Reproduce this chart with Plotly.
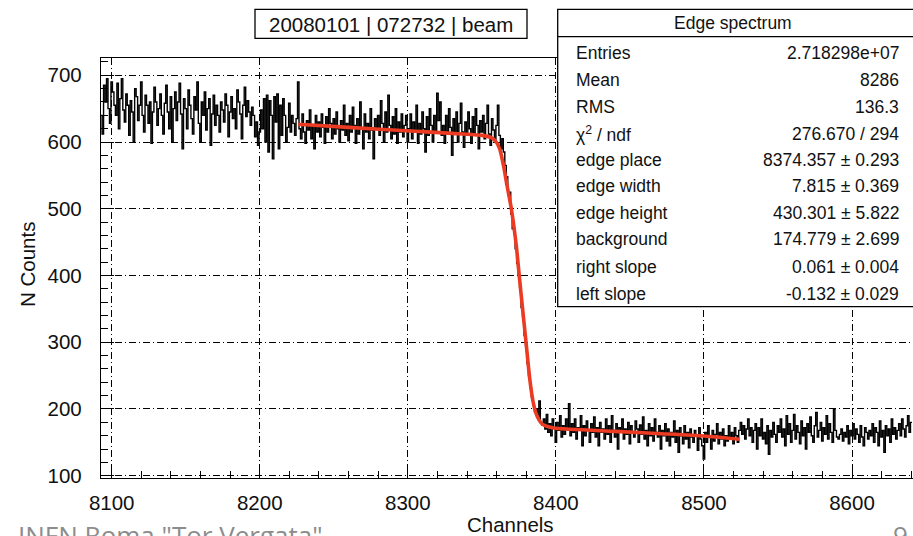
import plotly.graph_objects as go

# ---------------- data ----------------
bin_start = 8092.5   # low edge of the first 1-channel bin
bin_width = 1.0

counts_a = [  # 8093-8200
    640, 612, 685, 660, 695, 650, 628, 690, 675, 655, 640, 688, 620, 665, 695, 648, 630, 672, 655, 610,
    662, 645, 600, 680, 668, 632, 655, 690, 640, 615, 670, 655, 628, 660, 598, 645, 682, 660, 625, 650,
    672, 640, 612, 658, 685, 645, 620, 668, 600, 650, 675, 632, 660, 688, 642, 590, 665, 650, 620, 678,
    655, 635, 612, 668, 648, 690, 628, 600, 660, 640, 675, 618, 650, 665, 595, 642, 670, 625, 655, 640,
    615, 660, 648, 630, 672, 655, 608, 645, 668, 635, 650, 620, 678, 660, 642, 605, 655, 682, 638, 662,
    645, 625, 652, 640, 608, 630, 595, 615,
]
counts_b = [  # 8201-8300
    648, 620, 665, 600, 670, 585, 662, 640, 575, 668, 630, 672, 590, 655, 610, 665, 640, 600, 622, 658,
    615, 640, 628, 610, 635, 690, 620, 605, 642, 615, 598, 632, 618, 648, 605, 625, 590, 640, 615, 630,
    608, 642, 622, 598, 638, 615, 650, 628, 605, 635, 612, 645, 620, 600, 632, 618, 655, 610, 628, 602,
    640, 615, 652, 625, 598, 635, 612, 660, 620, 590, 642, 615, 628, 605, 650, 618, 575, 635, 622, 640,
    610, 662, 628, 600, 645, 615, 670, 625, 605, 638, 612, 650, 598, 630, 615, 642, 608, 625, 640, 600,
]
counts_c = [  # 8301-8365
    620, 642, 605, 630, 615, 655, 598, 628, 612, 645, 620, 585, 638, 610, 650, 625, 600, 640, 615, 673,
    632, 660, 610, 625, 598, 640, 615, 650, 622, 580, 635, 612, 645, 600, 628, 658, 615, 592, 630, 610,
    645, 620, 598, 638, 612, 650, 625, 590, 632, 615, 640, 605, 628, 655, 612, 595, 635, 618, 600, 625,
    655, 610, 590, 605, 585,
]
counts_d = [  # 8366-8392 (edge)
    565, 548, 520, 525, 492, 470, 462, 440, 418, 400, 382, 352, 338, 310, 295, 268, 250, 232, 218, 205,
    196, 200, 188, 212, 180, 176, 185,
]
counts_e = [  # 8393-8532
    170, 192, 165, 178, 160, 185, 172, 150, 180, 168, 190, 158, 175, 162, 185, 170, 208, 160, 178, 165,
    185, 155, 172, 168, 190, 145, 175, 160, 182, 168, 150, 178, 165, 188, 158, 172, 145, 180, 165, 170,
    155, 185, 162, 175, 150, 190, 168, 158, 178, 140, 172, 165, 185, 155, 170, 162, 180, 148, 175, 165,
    158, 182, 170, 150, 176, 162, 188, 155, 168, 145, 178, 160, 172, 152, 185, 165, 158, 175, 140, 168,
    160, 178, 152, 170, 145, 165, 158, 182, 150, 168, 135, 172, 160, 148, 175, 155, 165, 142, 170, 158,
    150, 168, 160, 138, 172, 155, 145, 125, 165, 150, 175, 158, 140, 168, 152, 162, 178, 148, 165, 155,
    170, 145, 160, 152, 175, 158, 165, 148, 172, 160, 150, 168, 180, 162, 175, 155, 170, 185, 160, 172,
]
counts_f = [  # 8533-8640
    150, 168, 178, 140, 172, 160, 185, 155, 165, 148, 175, 132, 168, 158, 180, 162, 150, 175, 165, 185,
    158, 170, 145, 190, 162, 178, 150, 168, 192, 155, 175, 165, 148, 182, 160, 172, 140, 178, 165, 188,
    160, 150, 175, 195, 158, 168, 180, 152, 172, 162, 190, 155, 178, 165, 150, 200, 168, 158, 155, 162,
    170, 152, 165, 158, 175, 148, 168, 160, 178, 155, 170, 162, 150, 175, 158, 145, 172, 165, 155, 168,
    160, 178, 150, 172, 165, 145, 182, 158, 168, 135, 175, 160, 170, 150, 185, 162, 172, 155, 168, 178,
    160, 185, 170, 158, 175, 190, 165, 180,
]

fit_x = [8226, 8260, 8302, 8330, 8350, 8356, 8359, 8362, 8364.5, 8367, 8370, 8373.3, 8375.5, 8377.8,
         8380.1, 8382.3, 8384.5, 8386.5, 8388.5, 8391, 8395, 8400, 8440, 8471.5, 8500, 8524]
fit_y = [626.6, 622, 616.5, 613, 610, 607, 602, 590, 566, 535, 499, 444, 394, 344,
         294, 246, 212, 194, 184, 177, 173.5, 171, 166.5, 163, 159.5, 154.6]

x_ticks = [8100, 8200, 8300, 8400, 8500, 8600]
y_ticks = [100, 200, 300, 400, 500, 600, 700]

title_text = "20080101 | 072732 | beam"
stats_title = "Edge spectrum"
stats_names = ["Entries", "Mean", "RMS", "χ<sup>2</sup> / ndf", "edge place", "edge width",
               "edge height", "background", "right slope", "left slope"]
stats_values = ["2.718298e+07", "8286", "136.3", "276.670 / 294", "8374.357 ± 0.293",
                "7.815 ± 0.369", "430.301 ± 5.822", "174.779 ± 2.699", "0.061 ± 0.004",
                "-0.132 ± 0.029"]

# ---------------- build ----------------
counts = counts_a + counts_b + counts_c + counts_d + counts_e + counts_f
edges = [bin_start + i * bin_width for i in range(len(counts) + 1)]
hist_y = counts + [counts[-1]]

W, H = 913, 536
L, R, T, B = 101, 0, 58, 58
X_RANGE = [8092.77, 8641.2]
Y_RANGE = [96.6, 725.9]

def px_x(p):  # page pixel -> paper x
    return (p - L) / (W - L - R)

def px_y(p):  # page pixel -> paper y
    return (H - B - p) / (H - T - B)

FONT = "Liberation Sans, Arial, Helvetica, sans-serif"

fig = go.Figure()
fig.add_trace(go.Scatter(x=edges, y=hist_y, mode="lines", line=dict(color="black", width=1.4, shape="hv"),
                         hoverinfo="skip", showlegend=False))
fig.add_trace(go.Scatter(x=fit_x, y=fit_y, mode="lines",
                         line=dict(color="#ec3b22", width=3.6, shape="spline", smoothing=0.6),
                         hoverinfo="skip", showlegend=False))

grid_dash = "7px,3px,1px,3px"
common_axis = dict(
    showline=True, linecolor="black", linewidth=1.3, mirror=True,
    ticks="inside", ticklen=13, tickwidth=1, tickcolor="black",
    showgrid=True, gridcolor="black", gridwidth=1, griddash=grid_dash,
    zeroline=False,
    tickfont=dict(family=FONT, size=20.5, color="#111111"),
)
fig.update_xaxes(range=X_RANGE, tickmode="array", tickvals=x_ticks,
                 ticktext=[str(v) for v in x_ticks],
                 minor=dict(ticks="inside", dtick=20, tick0=8100, ticklen=7, tickcolor="black", showgrid=False),
                 ticklabelstandoff=6, **common_axis)
fig.update_yaxes(range=Y_RANGE, tickmode="array", tickvals=y_ticks,
                 ticktext=[str(v) for v in y_ticks],
                 minor=dict(ticks="inside", dtick=20, tick0=100, ticklen=7, tickcolor="black", showgrid=False),
                 ticklabelstandoff=14, **common_axis)

shapes = []
annotations = []

# title box
shapes.append(dict(type="rect", xref="paper", yref="paper", x0=px_x(255), x1=px_x(527),
                   y0=px_y(38.3), y1=px_y(9.3), line=dict(color="black", width=1.3),
                   fillcolor="white", layer="above"))
annotations.append(dict(text=title_text, xref="paper", yref="paper", x=px_x(391), y=px_y(24),
                        xanchor="center", yanchor="middle", showarrow=False,
                        font=dict(family=FONT, size=20.5, color="#111111")))

# stats box
shapes.append(dict(type="rect", xref="paper", yref="paper", x0=px_x(557.7), x1=px_x(930),
                   y0=px_y(306.7), y1=px_y(9.3), line=dict(color="black", width=1.3),
                   fillcolor="white", layer="above"))
shapes.append(dict(type="line", xref="paper", yref="paper", x0=px_x(557.7), x1=px_x(930),
                   y0=px_y(36.7), y1=px_y(36.7), line=dict(color="black", width=1.3), layer="above"))
annotations.append(dict(text=stats_title, xref="paper", yref="paper", x=px_x(732.5), y=px_y(23),
                        xanchor="center", yanchor="middle", showarrow=False,
                        font=dict(family=FONT, size=17.5, color="#111111")))
row_y = [53.3, 80, 107.3, 134, 160, 186, 212.7, 239.3, 266.7, 294]
for name, val, ry in zip(stats_names, stats_values, row_y):
    annotations.append(dict(text=name, xref="paper", yref="paper", x=px_x(574), y=px_y(ry),
                            xanchor="left", yanchor="middle", showarrow=False,
                            font=dict(family=FONT, size=17.5, color="#111111")))
    annotations.append(dict(text=val, xref="paper", yref="paper", x=px_x(901), y=px_y(ry),
                            xanchor="right", yanchor="middle", showarrow=False,
                            font=dict(family=FONT, size=17.5, color="#111111")))

# axis titles
annotations.append(dict(text="Channels", xref="paper", yref="paper", x=px_x(510), y=px_y(524.5),
                        xanchor="center", yanchor="middle", showarrow=False,
                        font=dict(family=FONT, size=20.5, color="#111111")))
annotations.append(dict(text="N Counts", xref="paper", yref="paper", x=px_x(27), y=px_y(265),
                        xanchor="center", yanchor="middle", textangle=-90, showarrow=False,
                        font=dict(family=FONT, size=20.5, color="#111111")))

# slide footer (cut off at the bottom of the picture)
annotations.append(dict(text='INFN Roma "Tor Vergata"', xref="paper", yref="paper", x=px_x(16), y=px_y(535),
                        xanchor="left", yanchor="middle", showarrow=False,
                        font=dict(family="Open Sans, sans-serif", size=26, color="#8c8c8c")))
annotations.append(dict(text="9", xref="paper", yref="paper", x=px_x(900), y=px_y(535),
                        xanchor="center", yanchor="middle", showarrow=False,
                        font=dict(family="Open Sans, sans-serif", size=26, color="#8c8c8c")))

fig.update_layout(
    width=W, height=H,
    margin=dict(l=L, r=R, t=T, b=B, pad=0),
    paper_bgcolor="white", plot_bgcolor="white",
    shapes=shapes, annotations=annotations,
    showlegend=False,
)

fig.write_html("out.html",
               config={"displayModeBar": False},
               post_script="document.body.style.margin='0';document.body.style.padding='0';"
                           "document.body.style.overflow='hidden';")
